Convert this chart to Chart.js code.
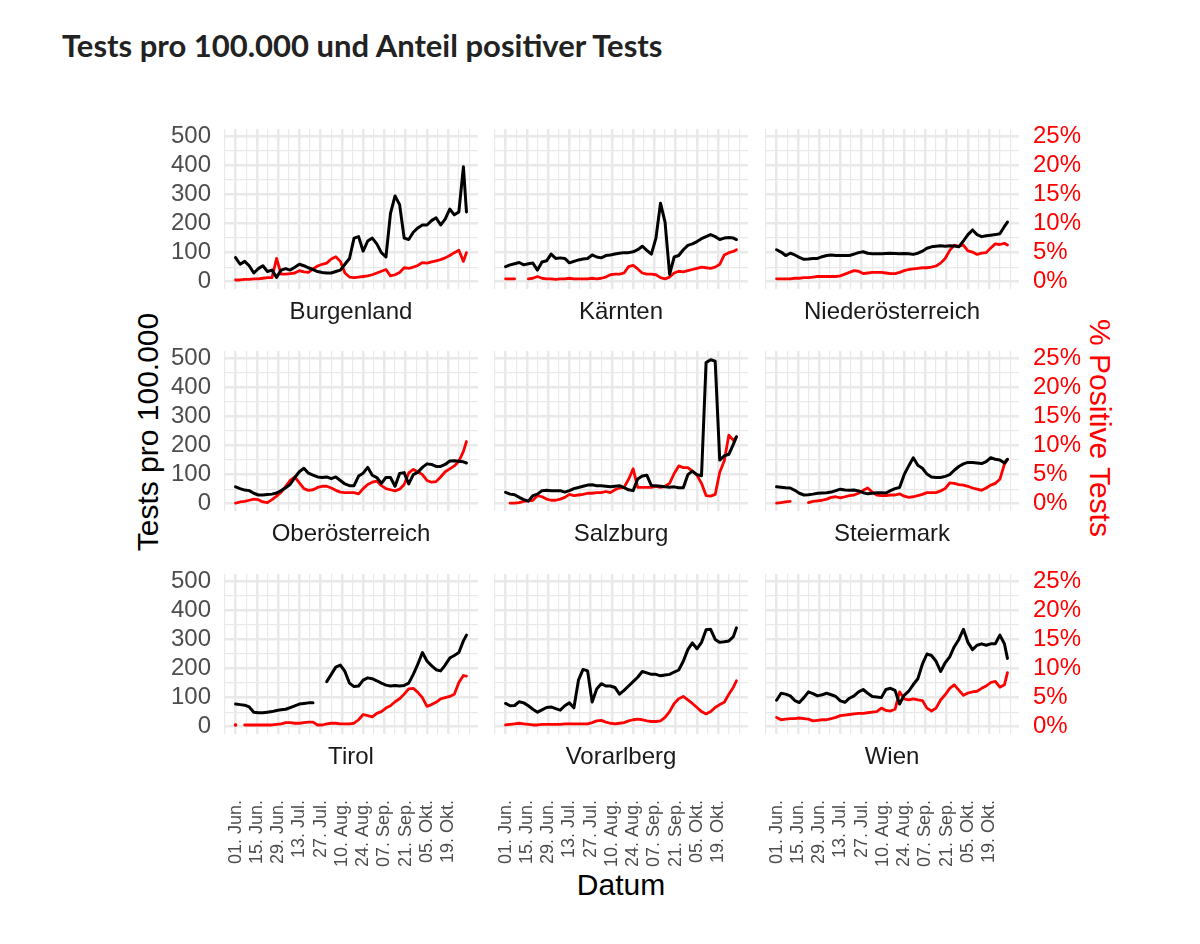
<!DOCTYPE html>
<html>
<head>
<meta charset="utf-8">
<script src="https://cdn.jsdelivr.net/npm/chart.js@4.4.1/dist/chart.umd.min.js"></script>
<style>
  body { margin: 0; background: #fff; }
  #wrap { position: relative; width: 1200px; height: 944px; background: #fff; overflow: hidden; }
  .txt { position: absolute; white-space: nowrap; font-family: "Liberation Sans", Arial, sans-serif; }
  #title { left: 62px; top: 30px; font: 700 31px Lato, sans-serif; line-height: 1; color: #222; }
  #ylab { left: 148px; top: 432px; font-size: 30px; color: #000; transform: translate(-50%, -50%) rotate(-90deg); }
  #y2lab { left: 1100px; top: 428px; font-size: 30px; color: #ff0000; transform: translate(-50%, -50%) rotate(90deg); }
  #xlab { left: 621px; top: 885px; font-size: 30px; color: #000; transform: translate(-50%, -50%); }
  .panel { position: absolute; }
</style>
</head>
<body>
<div id="wrap">
  <div id="title" class="txt">Tests pro 100.000 und Anteil positiver Tests</div>
  <div id="ylab" class="txt">Tests pro 100.000</div>
  <div id="y2lab" class="txt">% Positive Tests</div>
  <div id="xlab" class="txt">Datum</div>
</div>
<script>
// days since 01. Jun. 2020
const DAYS = [0,3,6,9,12,15,18,21,24,27,30,33,36,39,42,45,48,51,54,57,60,63,66,69,72,75,78,81,84,87,90,93,96,99,102,105,108,111,114,117,120,123,126,129,132,135,138,141,144,147,150,152];
const DATE_LABELS = ['01. Jun.','15. Jun.','29. Jun.','13. Jul.','27. Jul.','10. Aug.','24. Aug.','07. Sep.','21. Sep.','05. Okt.','19. Okt.'];
const TESTS_TICKS = [0,100,200,300,400,500];
const POS_TICKS = [0,5,10,15,20,25];
const STATES = ['Burgenland','Kärnten','Niederösterreich','Oberösterreich','Salzburg','Steiermark','Tirol','Vorarlberg','Wien'];

// tests per 100.000
const testsBurgenland = [83,60,70,55,30,45,55,35,40,15, 40,45,40,50,60,55,48,42,35,32, 30,30,35,40,60,80,150,155,105,140, 150,130,100,85,235,295,265,150,145,170, 185,195,195,210,220,195,215,250,230,240, 395,240];
const testsKaernten = [52,58,62,66,58,62,64,40,68,72, 95,80,82,80,65,70,75,78,80,92, 85,82,90,92,95,98,100,100,103,110, 122,108,95,150,270,205,25,85,90,110, 125,130,138,148,155,162,155,145,150,152, 150,145];
const testsNiederoesterreich = [110,102,90,98,92,84,77,78,80,80, 86,90,92,90,90,90,90,95,100,103, 98,96,96,96,97,98,97,96,97,96, 94,98,105,115,120,122,124,122,124,123, 120,140,162,178,162,155,158,160,162,165, 190,205];
const testsOberoesterreich = [58,52,47,45,36,30,30,32,33,37, 45,55,67,90,110,122,105,98,92,90, 92,86,92,80,68,62,62,95,105,125, 98,90,70,90,90,60,104,107,68,100, 108,125,137,135,128,128,135,147,148,146, 144,140];
const testsSalzburg = [39,33,31,22,14,9,28,33,45,46, 45,45,45,40,45,52,56,60,64,65, 62,62,60,58,60,62,55,48,45,85, 95,98,62,62,60,58,57,58,55,55, 100,112,100,96,485,495,490,150,165,170, 205,230];
const testsSteiermark = [58,57,55,54,46,36,30,31,33,36, 37,38,40,45,50,47,46,47,44,38, 34,36,38,38,37,45,52,56,100,130, 158,132,122,102,92,90,90,94,100,115, 128,137,142,142,140,138,145,158,153,150, 140,153];
const testsTirol = [78,76,74,68,50,48,48,50,52,56, 58,60,66,72,78,80,82,82,null,null, 155,180,205,212,190,150,138,140,160,168, 165,158,150,143,140,142,140,142,150,180, 215,255,226,210,196,192,212,236,245,255, 295,315];
const testsVorarlberg = [80,72,73,86,82,72,60,50,58,66, 68,62,57,72,82,65,160,197,192,85, 130,148,140,140,135,112,125,140,155,170, 190,185,180,180,175,178,180,188,195,225, 265,288,268,290,333,335,300,290,292,295, 310,340];
const testsWien = [91,115,112,106,90,83,100,120,114,106, 110,115,110,104,89,84,98,106,120,128, 115,104,102,100,128,132,125,78,108,122, 145,165,215,250,245,225,190,220,240,275, 300,335,290,265,280,285,280,285,285,315, 285,235];

// share of positive tests in %
const posBurgenland = [0.3,0.3,0.4,0.4,0.5,0.5,0.6,0.7,0.7,4.0, 1.3,1.3,1.4,1.5,1.9,1.7,1.6,2.2,2.7,3.0, 3.2,3.9,4.3,3.5,1.5,0.8,0.7,0.8,0.9,1.0, 1.2,1.5,1.8,2.1,1.0,1.2,1.6,2.4,2.3,2.5, 2.8,3.3,3.2,3.4,3.6,3.8,4.1,4.5,5.0,5.4, 3.5,5.0];
const posKaernten = [0.5,0.5,0.5,null,null,0.5,0.6,0.9,0.6,0.5, 0.5,0.4,0.5,0.5,0.6,0.5,0.5,0.5,0.5,0.6, 0.5,0.6,0.8,1.2,1.3,1.3,1.5,2.6,2.8,2.2, 1.5,1.3,1.3,1.2,0.7,0.5,0.8,1.5,1.8,1.7, 1.9,2.1,2.3,2.5,2.4,2.3,2.5,3.0,4.6,5.0, 5.2,5.5];
const posNiederoesterreich = [0.5,0.5,0.5,0.5,0.6,0.6,0.7,0.7,0.8,0.9, 0.9,0.9,0.9,0.9,1.0,1.3,1.6,1.9,1.8,1.4, 1.5,1.6,1.6,1.6,1.5,1.4,1.4,1.6,1.9,2.1, 2.2,2.3,2.4,2.4,2.5,2.7,3.2,4.0,5.4,6.3, 6.1,6.3,5.3,5.1,4.7,4.9,5.0,5.8,6.5,6.4, 6.6,6.3];
const posOberoesterreich = [0.1,0.3,0.4,0.6,0.8,0.7,0.3,0.2,0.7,1.3, 2.0,3.0,4.0,4.6,3.6,2.6,2.3,2.4,2.8,3.0, 3.0,2.7,2.3,2.0,1.9,1.9,1.9,1.7,2.6,3.3, 3.7,3.9,3.1,2.6,2.4,2.2,2.5,3.3,5.3,5.9, 5.5,5.0,4.0,3.7,3.8,4.6,5.5,6.0,6.5,7.3, 9.0,10.7];
const posSalzburg = [null,0.1,0.1,0.2,0.4,0.5,0.6,1.4,1.2,0.8, 0.6,0.6,0.8,1.1,1.6,1.4,1.5,1.6,1.8,1.8, 1.9,1.9,2.1,1.9,2.4,2.7,2.8,4.2,6.0,2.8, 2.8,2.8,2.8,3.0,2.8,3.0,3.5,5.2,6.5,6.2, 6.2,5.6,4.9,3.5,1.4,1.3,1.6,5.4,7.4,11.8, 10.9,11.5];
const posSteiermark = [0.1,0.2,0.3,0.4,null,null,null,0.2,0.4,0.5, 0.6,0.8,1.1,1.2,1.0,1.2,1.4,1.5,1.8,2.3, 2.7,2.0,1.5,1.4,1.4,1.5,1.5,1.7,1.3,1.1, 1.2,1.4,1.6,1.9,1.9,1.9,2.2,2.6,3.6,3.5, 3.3,3.2,3.0,2.7,2.5,2.3,2.7,3.2,3.5,4.2, 6.8,7.6];
const posTirol = [0.3,null,0.3,0.3,0.3,0.3,0.3,0.3,0.3,0.4, 0.5,0.7,0.7,0.6,0.6,0.7,0.8,0.8,0.3,0.3, 0.5,0.6,0.6,0.5,0.5,0.5,0.6,1.2,2.1,1.9, 1.7,2.3,2.6,3.2,3.6,4.3,4.8,5.6,6.5,6.6, 5.9,5.0,3.5,3.8,4.2,4.8,5.0,5.2,5.6,7.6, 8.8,8.7];
const posVorarlberg = [0.3,0.4,0.5,0.6,0.5,0.4,0.3,0.3,0.4,0.4, 0.4,0.4,0.4,0.5,0.5,0.5,0.5,0.5,0.5,0.7, 1.0,1.1,0.8,0.6,0.5,0.6,0.7,1.0,1.2,1.3, 1.2,1.0,0.9,0.9,1.0,1.6,2.6,4.0,4.8,5.2, 4.6,4.0,3.3,2.6,2.2,2.6,3.3,3.8,4.2,5.6, 6.8,7.9];
const posWien = [1.6,1.2,1.3,1.4,1.4,1.5,1.4,1.3,1.0,1.1, 1.2,1.2,1.4,1.6,1.9,2.0,2.1,2.2,2.3,2.3, 2.4,2.5,2.6,3.2,2.8,2.7,3.0,6.0,4.8,4.6, 4.8,4.6,4.5,3.2,2.7,3.2,4.6,5.5,6.6,7.2, 6.3,5.4,5.8,6.0,6.1,6.6,7.0,7.6,7.8,6.8, 7.2,9.3];

const TESTS = [testsBurgenland, testsKaernten, testsNiederoesterreich, testsOberoesterreich, testsSalzburg, testsSteiermark, testsTirol, testsVorarlberg, testsWien];
const POSITIVE = [posBurgenland, posKaernten, posNiederoesterreich, posOberoesterreich, posSalzburg, posSteiermark, posTirol, posVorarlberg, posWien];

// layout of the facet grid
const COL_LEFT = [224, 494, 765];
const ROW_TOP = [129, 351, 574];
const PW = 254, PH = 160;
const LEFT_W = 80, RIGHT_W = 90, TOP_PAD = 18, STRIP_H = 45, BOTTOM_H = 160;
const FONT = '"Liberation Sans", Arial, Helvetica, sans-serif';
const GRID = '#e9e9e9';

const stripPlugin = {
  id: 'strip',
  afterDraw(chart, args, opts) {
    const { ctx, chartArea } = chart;
    ctx.save();
    ctx.font = '24px ' + FONT;
    ctx.fillStyle = '#1a1a1a';
    ctx.textAlign = 'center';
    ctx.textBaseline = 'middle';
    ctx.fillText(opts.text, (chartArea.left + chartArea.right) / 2, chartArea.bottom + 23);
    ctx.restore();
  }
};

// point only where a value stands alone between gaps
function loneRadius(c) {
  const d = c.dataset.data, i = c.dataIndex;
  if (d[i] == null) return 0;
  const prev = i === 0 || d[i - 1] == null;
  const next = i === d.length - 1 || d[i + 1] == null;
  return prev && next ? 1.8 : 0;
}

function withMinors(majors) {
  const out = [];
  majors.forEach((v, i) => {
    if (i > 0) out.push({ value: (majors[i - 1] + v) / 2, big: false });
    out.push({ value: v, big: true });
  });
  return out;
}

// keep every plot area at the same fixed size
function noPadding(s) {
  s.paddingTop = 0; s.paddingBottom = 0; s.paddingLeft = 0; s.paddingRight = 0;
}

const gridWidth = c => (c.tick && c.tick.big ? 2.5 : 1.2);

STATES.forEach((name, i) => {
  const row = Math.floor(i / 3), col = i % 3;
  const bottom = row === 2;
  const div = document.createElement('div');
  div.className = 'panel';
  div.style.left = (COL_LEFT[col] - LEFT_W) + 'px';
  div.style.top = (ROW_TOP[row] - TOP_PAD) + 'px';
  div.style.width = (LEFT_W + PW + RIGHT_W) + 'px';
  div.style.height = (TOP_PAD + PH + (bottom ? BOTTOM_H : STRIP_H)) + 'px';
  const canvas = document.createElement('canvas');
  div.appendChild(canvas);
  document.getElementById('wrap').appendChild(div);

  const dateTicks = DATE_LABELS.map((_, k) => k * 14);

  new Chart(canvas, {
    type: 'line',
    data: {
      labels: DAYS,
      datasets: [
        { data: TESTS[i], borderColor: '#000000', borderWidth: 3, yAxisID: 'y',
          pointRadius: loneRadius, pointBackgroundColor: '#000', pointBorderWidth: 0, spanGaps: false },
        { data: POSITIVE[i], borderColor: '#ff0000', borderWidth: 2.8, yAxisID: 'y2',
          pointRadius: loneRadius, pointBackgroundColor: '#ff0000', pointBorderWidth: 0, spanGaps: false }
      ]
    },
    options: {
      responsive: true,
      maintainAspectRatio: false,
      animation: false,
      events: [],
      layout: { padding: { top: TOP_PAD, left: 0, right: 0, bottom: 0 } },
      elements: { line: { tension: 0, borderJoinStyle: 'round', borderCapStyle: 'round' } },
      plugins: { legend: { display: false }, tooltip: { enabled: false }, strip: { text: name } },
      scales: {
        x: {
          type: 'linear', min: -7.6, max: 159.6,
          afterBuildTicks: s => {
            const t = withMinors(dateTicks);
            t.unshift({ value: -7, big: false });
            t.push({ value: 147, big: false }, { value: 154, big: false });
            s.ticks = t;
          },
          afterFit: s => { s.height = bottom ? BOTTOM_H : STRIP_H; noPadding(s); },
          grid: { color: GRID, lineWidth: gridWidth, drawTicks: false },
          border: { display: false },
          ticks: {
            display: bottom, autoSkip: false, minRotation: 90, maxRotation: 90, padding: 66,
            color: '#4d4d4d', font: { family: FONT, size: 18 },
            callback: (v, k, ticks) => ticks[k].big ? DATE_LABELS[Math.round(v / 14)] : ''
          }
        },
        y: {
          position: 'left', min: -25, max: 525,
          afterBuildTicks: s => { s.ticks = withMinors(TESTS_TICKS); },
          afterFit: s => { s.width = LEFT_W; noPadding(s); },
          grid: { color: GRID, lineWidth: gridWidth, drawTicks: false },
          border: { display: false },
          ticks: {
            display: col === 0, autoSkip: false, padding: 13, color: '#4d4d4d', font: { family: FONT, size: 24 },
            callback: (v, k, ticks) => ticks[k].big ? String(v) : ''
          }
        },
        y2: {
          position: 'right', min: -1.25, max: 26.25,
          afterBuildTicks: s => { s.ticks = POS_TICKS.map(v => ({ value: v })); },
          afterFit: s => { s.width = RIGHT_W; noPadding(s); },
          grid: { display: false, drawTicks: false },
          border: { display: false },
          ticks: {
            display: col === 2, autoSkip: false, padding: 14, color: '#ff0000', font: { family: FONT, size: 24 },
            callback: v => v + '%'
          }
        }
      }
    },
    plugins: [stripPlugin]
  });
});
</script>
</body>
</html>
